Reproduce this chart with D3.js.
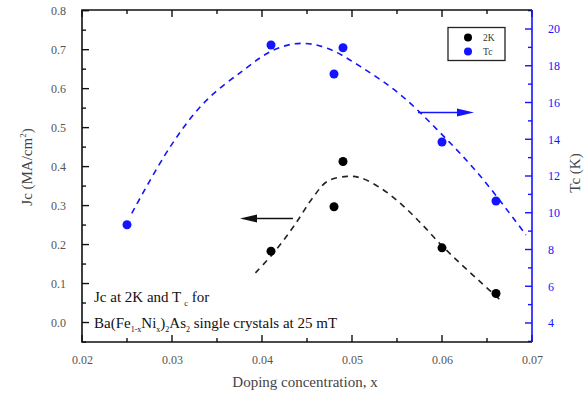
<!DOCTYPE html>
<html><head><meta charset="utf-8">
<script src="https://cdn.jsdelivr.net/npm/d3@7"></script>
</head><body style="margin:0;background:#fff"><svg id="c" width="586" height="395" style="display:block"></svg>
<script>
// Data
const tcX = [0.025, 0.041, 0.048, 0.049, 0.060, 0.066];
const tcY = [9.35, 19.13, 17.55, 18.98, 13.85, 10.64];
const jcX = [0.041, 0.048, 0.049, 0.060, 0.066];
const jcY = [0.183, 0.297, 0.413, 0.1915, 0.0744];
// dashed fit curves
const tcFitX = [0.02553, 0.0298, 0.03351, 0.03797, 0.0413, 0.04428, 0.04725, 0.05096, 0.05541, 0.05987, 0.06432, 0.06933];
const tcFitY = [9.97, 13.59, 15.96, 17.77, 18.86, 19.22, 18.95, 17.95, 16.41, 14.32, 11.96, 8.79];
const jcFitX = [0.03927, 0.0413, 0.04353, 0.04576, 0.04725, 0.04948, 0.05096, 0.05318, 0.05541, 0.05764, 0.05987, 0.0621, 0.06432, 0.06655];
const jcFitY = [0.1274, 0.1787, 0.247, 0.324, 0.362, 0.375, 0.371, 0.345, 0.305, 0.255, 0.200, 0.150, 0.103, 0.056];
const xTicks = [0.02, 0.03, 0.04, 0.05, 0.06, 0.07];
const xMinor = [0.025, 0.035, 0.045, 0.055, 0.065];
const yLeftTicks = [0.0, 0.1, 0.2, 0.3, 0.4, 0.5, 0.6, 0.7, 0.8];
const yLeftMinor = [-0.05, 0.05, 0.15, 0.25, 0.35, 0.45, 0.55, 0.65, 0.75];
const yRightTicks = [4, 6, 8, 10, 12, 14, 16, 18, 20];
const yRightMinor = [3, 5, 7, 9, 11, 13, 15, 17, 19, 21];
const legendLabels = ["2K", "Tc"];

const FONT = "Liberation Serif";
const BLUE = "#1414ff";
const BLACK = "#111";
const svg = d3.select("#c");
const L = 82, R = 532, T = 10, B = 342;
const x = d3.scaleLinear().domain([0.02, 0.07]).range([L, R]);
const yL = d3.scaleLinear().domain([-0.05, 0.8]).range([B, T + 0.7]);
const yR = d3.scaleLinear().domain([4, 20]).range([323, 29]);

// axis labels via d3 axes
const gB = svg.append("g").attr("transform", `translate(0,${B})`)
  .call(d3.axisBottom(x).tickValues(xTicks).tickFormat(d3.format(".2f")).tickSize(0).tickPadding(16));
const gL = svg.append("g").attr("transform", `translate(${L},0)`)
  .call(d3.axisLeft(yL).tickValues(yLeftTicks).tickFormat(d3.format(".1f")).tickSize(0).tickPadding(16));
const gR = svg.append("g").attr("transform", `translate(${R},0)`)
  .call(d3.axisRight(yR).tickValues(yRightTicks).tickFormat(d3.format("d")).tickSize(0).tickPadding(16));
[gB, gL, gR].forEach(g => {
  g.select(".domain").remove();
  g.selectAll(".tick text").attr("font-size", 12).attr("font-family", FONT).attr("fill", g === gR ? BLUE : "#555");
});
gB.selectAll(".tick text").attr("dy", "0.5em");

// tick marks drawn from the scales (inward)
const tk = svg.append("g").attr("stroke-width", 1.4);
function vTicks(vals, y0, len, color) {
  tk.append("g").selectAll("line").data(vals).join("line")
    .attr("x1", d => x(d)).attr("x2", d => x(d)).attr("y1", y0).attr("y2", y0 + len).attr("stroke", color);
}
function hTicks(vals, scale, x0, len, color) {
  tk.append("g").selectAll("line").data(vals).join("line")
    .attr("y1", d => scale(d)).attr("y2", d => scale(d)).attr("x1", x0).attr("x2", x0 + len).attr("stroke", color);
}
vTicks(xTicks, B, -7, BLACK); vTicks(xMinor, B, -4, BLACK);
vTicks(xTicks, T, 7, BLACK); vTicks(xMinor, T, 4, BLACK);
hTicks(yLeftTicks, yL, L, 7, BLACK); hTicks(yLeftMinor, yL, L, 4, BLACK);
hTicks(yRightTicks, yR, R, -7, BLUE); hTicks(yRightMinor, yR, R, -4, BLUE);

// frame
svg.append("path").attr("d", `M${R},${B}H${L}V${T}H${R}`).attr("fill", "none").attr("stroke", BLACK).attr("stroke-width", 1.6);
svg.append("line").attr("x1", R).attr("x2", R).attr("y1", T).attr("y2", B).attr("stroke", BLUE).attr("stroke-width", 1.6);

// fits
const tcLine = d3.line().x(d => x(d[0])).y(d => yR(d[1])).curve(d3.curveCatmullRom);
const jcLine = d3.line().x(d => x(d[0])).y(d => yL(d[1])).curve(d3.curveCatmullRom);
svg.append("path").datum(d3.zip(tcFitX, tcFitY)).attr("d", tcLine).attr("fill", "none").attr("stroke", BLUE).attr("stroke-width", 1.6).attr("stroke-dasharray", "6,5");
svg.append("path").datum(d3.zip(jcFitX, jcFitY)).attr("d", jcLine).attr("fill", "none").attr("stroke", "#222").attr("stroke-width", 1.6).attr("stroke-dasharray", "6,5");

// points
svg.append("g").selectAll("circle").data(d3.zip(tcX, tcY)).join("circle")
  .attr("cx", d => x(d[0])).attr("cy", d => yR(d[1])).attr("r", 4.5).attr("fill", BLUE);
svg.append("g").selectAll("circle").data(d3.zip(jcX, jcY)).join("circle")
  .attr("cx", d => x(d[0])).attr("cy", d => yL(d[1])).attr("r", 4.5).attr("fill", "#000");

// arrows
function arrow(x1, x2, y, color) {
  const dir = Math.sign(x2 - x1);
  svg.append("line").attr("x1", x1).attr("x2", x2 - dir * 14).attr("y1", y).attr("y2", y).attr("stroke", color).attr("stroke-width", 1.6);
  svg.append("path").attr("d", `M${x2},${y}L${x2 - dir * 17},${y - 4}L${x2 - dir * 17},${y + 4}Z`).attr("fill", color);
}
arrow(418, 474, 112.5, BLUE);
arrow(293, 240, 218.5, BLACK);

// legend
const lg = svg.append("g").attr("font-family", FONT);
lg.append("rect").attr("x", 448).attr("y", 27.5).attr("width", 57).attr("height", 33).attr("fill", "#fff").attr("stroke", "#222").attr("stroke-width", 1.3);
legendLabels.forEach((t, i) => {
  lg.append("circle").attr("cx", 468).attr("cy", 37.5 + i * 14).attr("r", 4).attr("fill", i === 0 ? "#000" : BLUE);
  lg.append("text").attr("x", 483).attr("y", 41 + i * 14).attr("font-size", 9.5).attr("fill", "#333").text(t);
});

// annotation
const a1 = svg.append("text").attr("x", 94).attr("y", 302).attr("font-size", 15).attr("fill", BLACK).attr("font-family", FONT);
a1.append("tspan").text("Jc at 2K and T");
a1.append("tspan").attr("font-size", 8).attr("dy", 4).attr("dx", 3).text("c");
a1.append("tspan").attr("dy", -4).attr("dx", 4).text("for");
const a2 = svg.append("text").attr("x", 94).attr("y", 328).attr("font-size", 15).attr("fill", BLACK).attr("font-family", FONT);
a2.append("tspan").text("Ba(Fe");
a2.append("tspan").attr("font-size", 8).attr("dy", 4).text("1-x");
a2.append("tspan").attr("dy", -4).text("Ni");
a2.append("tspan").attr("font-size", 8).attr("dy", 4).text("x");
a2.append("tspan").attr("dy", -4).text(")");
a2.append("tspan").attr("font-size", 8).attr("dy", 4).text("2");
a2.append("tspan").attr("dy", -4).text("As");
a2.append("tspan").attr("font-size", 8).attr("dy", 4).text("2");
a2.append("tspan").attr("dy", -4).text(" single crystals at 25 mT");

// axis titles
svg.append("text").attr("x", (L + R) / 2 - 2).attr("y", 387).attr("text-anchor", "middle").attr("font-size", 15).attr("fill", "#444").attr("font-family", FONT).text("Doping concentration, x");
const yt = svg.append("text").attr("transform", "translate(32,167) rotate(-90)").attr("text-anchor", "middle").attr("font-size", 15).attr("fill", "#444").attr("font-family", FONT);
yt.append("tspan").text("Jc (MA/cm");
yt.append("tspan").attr("font-size", 9).attr("dy", -6).text("2");
yt.append("tspan").attr("dy", 6).text(")");
svg.append("text").attr("transform", "translate(580,173) rotate(-90)").attr("text-anchor", "middle").attr("font-size", 15).attr("fill", "#444").attr("font-family", FONT).text("Tc (K)");
</script></body></html>
